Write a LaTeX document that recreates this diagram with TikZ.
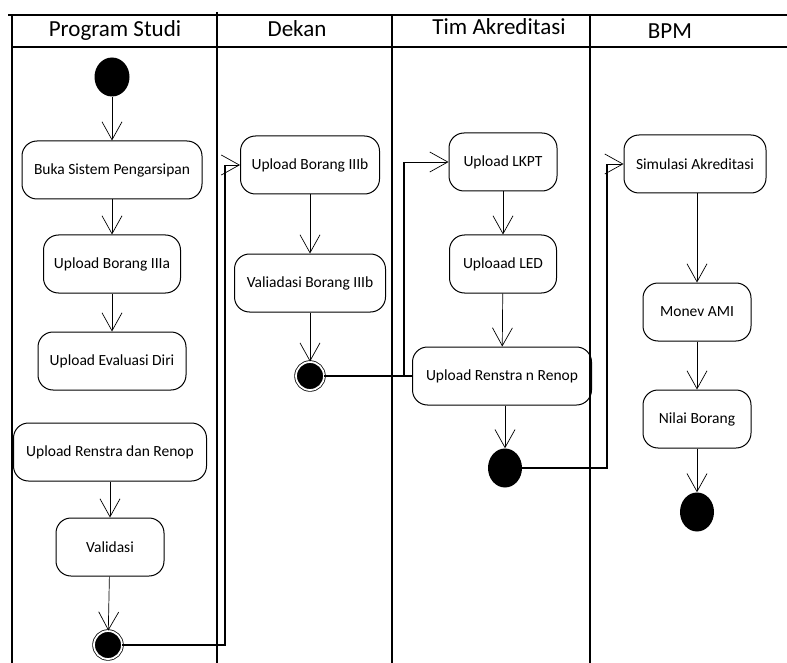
\documentclass[tikz,border=0pt]{standalone}
\usepackage{fontspec}
\setmainfont{Carlito}
\usetikzlibrary{shapes.geometric, arrows.meta}

\begin{document}
\begin{tikzpicture}[x=1pt, y=-1pt,
    lane/.style={line width=1.2pt},
    head/.style={anchor=base, font=\fontsize{23}{26}\selectfont},
    act/.style={draw, line width=1pt, rounded corners=15pt, minimum height=58pt, inner xsep=4pt, font=\fontsize{15.5}{18}\selectfont},
    flow/.style={-{Straight Barb[length=18pt,width=20pt]}, line width=0.7pt},
    link/.style={line width=1.1pt},
    startdot/.style={ellipse, fill=black, inner sep=0pt, minimum width=35pt, minimum height=39pt},
    enddot/.style={ellipse, fill=black, inner sep=0pt, minimum width=34pt, minimum height=39pt},
    finaldot/.style={circle, draw, fill=black, double=white, double distance=1.8pt, line width=0.8pt, inner sep=0pt, minimum size=28pt}]
      \useasboundingbox (0,0) rectangle (787,663);
      \draw[lane] (8,15) -- (787,15);
      \draw[lane] (12,47) -- (787,47);
      \draw[lane] (12,15) -- (12,663);
      \draw[lane] (217,12) -- (217,663);
      \draw[lane] (392,15) -- (392,663);
      \draw[lane] (590,15) -- (590,663);
      \node[head] (hprodi) at (115,37) {Program Studi};
      \node[head] (hdekan) at (297,37) {Dekan};
      \node[head] (htim) at (499,35) {Tim Akreditasi};
      \node[head] (hbpm) at (670,39) {BPM};

      \node[startdot] (start) at (112,77) {};
      \node[act, minimum width=180pt] (buka) at (112,170) {Buka Sistem Pengarsipan};
      \node[act, minimum width=137pt] (iiia) at (112,264) {Upload Borang IIIa};
      \node[act, minimum width=148pt] (evaluasi) at (112,361) {Upload Evaluasi Diri};
      \node[act, minimum width=193pt] (renstra) at (110,452) {Upload Renstra dan Renop};
      \node[act, minimum width=108pt] (validasi) at (110,547) {Validasi};
      \node[finaldot] (endprodi) at (108,645) {};

      \node[act, minimum width=139pt] (iiib) at (310,165) {Upload Borang IIIb};
      \node[act, minimum width=151pt] (valiadasi) at (310,283) {Valiadasi Borang IIIb};
      \node[finaldot] (enddekan) at (310,376) {};

      \node[act, minimum width=108pt] (lkpt) at (503,162) {Upload LKPT};
      \node[act, minimum width=107pt] (led) at (503,264) {Uploaad LED};
      \node[act, minimum width=179pt] (renstran) at (502,376) {Upload Renstra n Renop};
      \node[enddot] (endtim) at (505,468) {};

      \node[act, minimum width=142pt] (simulasi) at (695,164) {Simulasi Akreditasi};
      \node[act, minimum width=108pt] (monev) at (697,312) {Monev AMI};
      \node[act, minimum width=108pt] (nilai) at (697,419) {Nilai Borang};
      \node[enddot] (endbpm) at (697,512) {};

      \coordinate (kprodi) at (225,0);
      \coordinate (kdekan) at (404,0);
      \coordinate (ktim) at (607,0);

      \draw[flow] (start) -- (buka);
      \draw[flow] (buka) -- (iiia);
      \draw[flow] (iiia) -- (evaluasi);
      \draw[flow] (renstra) -- (validasi);
      \draw[flow] (validasi) -- (endprodi);
      \draw[flow] (iiib) -- (valiadasi);
      \draw[flow] (valiadasi) -- (enddekan);
      \draw[flow] (lkpt) -- (led);
      \draw[flow] (led) -- (renstran);
      \draw[flow] (renstran.south -| endtim) -- (endtim);
      \draw[flow] (simulasi.south -| monev) -- (monev);
      \draw[flow] (monev) -- (nilai);
      \draw[flow] (nilai) -- (endbpm);

      \draw[link] (endprodi.east) -| (kprodi |- iiib.west);
      \draw[flow] (kprodi |- iiib.west) -- (iiib.west);
      \draw[link] (enddekan.east) -- (renstran.west);
      \draw[link] (kdekan |- enddekan) -- (kdekan |- lkpt.west);
      \draw[flow] (kdekan |- lkpt.west) -- (lkpt.west);
      \draw[link] (endtim.east) -| (ktim |- simulasi.west);
      \draw[flow] (ktim |- simulasi.west) -- (simulasi.west);
\end{tikzpicture}
\end{document}
